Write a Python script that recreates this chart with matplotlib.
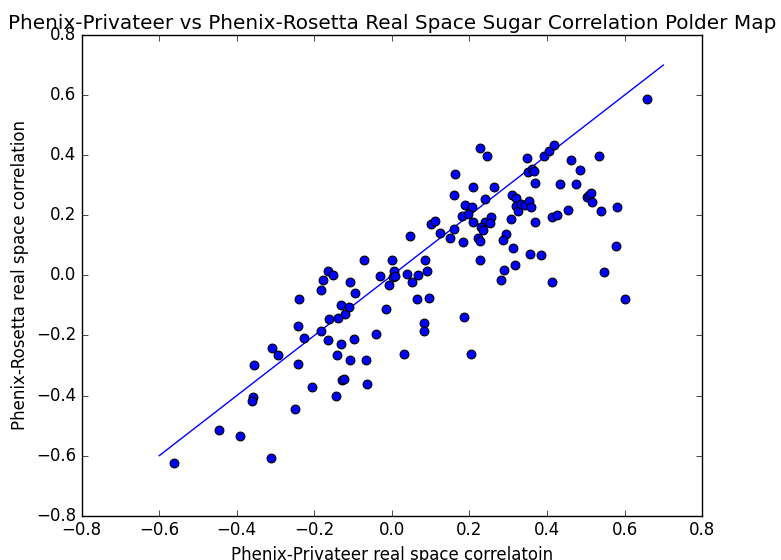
import numpy as np
import matplotlib
matplotlib.use("Agg")
import matplotlib.pyplot as plt

# Phenix-Privateer real space correlation (x) vs Phenix-Rosetta (y)
privateer = [
    -0.561, -0.446, -0.392, -0.311, -0.358, -0.360, -0.356, -0.309, -0.293, -0.249,
    -0.242, -0.242, -0.240, -0.226, -0.205, -0.182, -0.182, -0.178, -0.166, -0.151,
    -0.164, -0.162, -0.140, -0.132, -0.131, -0.142, -0.144, -0.129, -0.124, -0.121,
    -0.110, -0.109, -0.108, -0.099, -0.096, -0.072, -0.067, -0.063, -0.040, -0.030,
    -0.014, -0.008,
    0.001, 0.006, 0.003, 0.008, 0.040, 0.052, 0.068, 0.085, 0.091, 0.065,
    0.096, 0.082, 0.082, 0.032, 0.046,
    0.186, 0.204, 0.282, 0.289, 0.412, 0.546, 0.601, 0.658, 0.227, 0.245,
    0.164, 0.209, 0.262, 0.160, 0.241, 0.188, 0.206, 0.180, 0.195, 0.210,
    0.255, 0.241, 0.252, 0.230, 0.236, 0.100, 0.110, 0.123, 0.159, 0.149,
    0.184, 0.221, 0.227, 0.228, 0.294, 0.286, 0.311, 0.317, 0.357, 0.385,
    0.306, 0.310, 0.321, 0.320, 0.324, 0.332, 0.344, 0.353, 0.358, 0.369,
    0.369, 0.352, 0.360, 0.366, 0.348, 0.393, 0.405, 0.418, 0.434, 0.414,
    0.426, 0.454, 0.461, 0.486, 0.475, 0.534, 0.503, 0.508, 0.513, 0.517,
    0.540, 0.581, 0.577,
]
rosetta = [
    -0.626, -0.513, -0.536, -0.609, -0.406, -0.419, -0.298, -0.241, -0.266, -0.444,
    -0.295, -0.169, -0.080, -0.209, -0.371, -0.185, -0.050, -0.016, 0.015, 0.001,
    -0.215, -0.146, -0.141, -0.098, -0.229, -0.266, -0.401, -0.349, -0.344, -0.130,
    -0.105, -0.022, -0.280, -0.213, -0.059, 0.051, -0.281, -0.360, -0.196, -0.001,
    -0.113, -0.033,
    0.050, 0.015, -0.006, -0.002, 0.004, -0.021, 0.000, 0.052, 0.016, -0.079,
    -0.076, -0.159, -0.185, -0.260, 0.132,
    -0.137, -0.263, -0.016, 0.019, -0.022, 0.010, -0.079, 0.587, 0.425, 0.398,
    0.337, 0.295, 0.294, 0.266, 0.253, 0.233, 0.227, 0.199, 0.204, 0.176,
    0.193, 0.176, 0.174, 0.160, 0.151, 0.170, 0.182, 0.140, 0.153, 0.123,
    0.112, 0.124, 0.113, 0.051, 0.138, 0.119, 0.091, 0.036, 0.070, 0.067,
    0.188, 0.268, 0.256, 0.231, 0.214, 0.239, 0.235, 0.247, 0.229, 0.178,
    0.307, 0.343, 0.355, 0.346, 0.391, 0.397, 0.414, 0.434, 0.303, 0.194,
    0.201, 0.217, 0.384, 0.351, 0.303, 0.398, 0.261, 0.267, 0.275, 0.243,
    0.213, 0.227, 0.097,
]
# identity reference line
line_x = [-0.6, 0.7]
line_y = [-0.6, 0.7]

ticks = [-0.8, -0.6, -0.4, -0.2, 0.0, 0.2, 0.4, 0.6, 0.8]

plt.style.use('classic')
plt.rcParams['figure.facecolor'] = 'white'
plt.rcParams['savefig.facecolor'] = 'white'

fig = plt.figure(figsize=(7.81, 5.6), dpi=100)
ax = fig.add_axes([0.1046, 0.079, 0.7944, 0.8585])

ax.scatter(privateer, rosetta, s=40, c='blue', edgecolors='black', linewidths=0.8, zorder=3)
ax.plot(line_x, line_y, color='blue', linewidth=1.0)

ax.set_xlim(-0.8, 0.8)
ax.set_ylim(-0.8, 0.8)
ax.set_xticks(ticks)
ax.set_yticks(ticks)
ax.tick_params(labelsize=12)

ax.set_title("Phenix-Privateer vs Phenix-Rosetta Real Space Sugar Correlation Polder Map",
             fontsize=14.4, pad=4)
ax.set_xlabel("Phenix-Privateer real space correlatoin", fontsize=12)
ax.set_ylabel("Phenix-Rosetta real space correlation", fontsize=12)

fig.savefig("out.png", dpi=100)
